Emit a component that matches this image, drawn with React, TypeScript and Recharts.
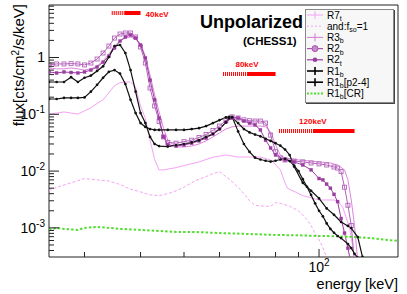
import React from "react";
import { LineChart, Line, XAxis, YAxis, ReferenceArea, ReferenceLine, ReferenceDot } from "recharts";

const W = 407;
const H = 294;
const X_MIN = 25;
const X_MAX = 150;
const Y_MIN = 3.07e-4;
const Y_MAX = 8.4;

const X_TICKS = [30, 40, 50, 60, 70, 80, 90, 100];
const X_MAJOR = [100];
const X_MAJOR_EXP = ["2"];
const Y_TICKS = [
  0.0004, 0.0005, 0.0006, 0.0007, 0.0008, 0.0009,
  0.001, 0.002, 0.003, 0.004, 0.005, 0.006, 0.007, 0.008, 0.009,
  0.01, 0.02, 0.03, 0.04, 0.05, 0.06, 0.07, 0.08, 0.09,
  0.1, 0.2, 0.3, 0.4, 0.5, 0.6, 0.7, 0.8, 0.9,
  1, 2, 3, 4, 5, 6, 7, 8,
];
const Y_MAJOR = [0.001, 0.01, 0.1, 1];
const Y_MAJOR_EXP = ["-3", "-2", "-1", ""];

// R7_t
const R7T_E = [25, 26, 27, 28, 29, 30, 31, 32, 33, 34, 35, 36, 37, 38, 39, 40, 41, 42, 43, 44, 45, 48, 50, 54, 58, 62, 66, 70, 74, 78, 80, 82, 84, 85, 92, 100, 108, 110, 113, 117, 120, 121];
const R7T_F = [0.101, 0.105, 0.11, 0.105, 0.101, 0.115, 0.13, 0.155, 0.18, 0.24, 0.32, 0.36, 0.37, 0.37, 0.3, 0.14, 0.085, 0.035, 0.016, 0.0105, 0.0105, 0.0115, 0.0125, 0.0145, 0.0175, 0.0192, 0.0177, 0.0177, 0.0177, 0.0157, 0.013, 0.0105, 0.0062, 0.005, 0.0037, 0.0031, 0.0031, 0.003, 0.0023, 0.001, 0.0003, 0.0002];

// and:f_so=1
const FSO_E = [25, 26, 28, 30, 31, 32, 34, 36, 38, 40, 42, 44, 46, 48, 50, 53, 56, 58, 60, 62, 64, 66, 68, 70, 72, 76, 78, 80, 82, 86, 90, 94, 96, 98, 100, 102, 104, 105];
const FSO_F = [0.0045, 0.0052, 0.0062, 0.0074, 0.0072, 0.007, 0.0067, 0.0058, 0.0048, 0.0043, 0.0038, 0.0037, 0.004, 0.0045, 0.0052, 0.0068, 0.008, 0.009, 0.0098, 0.008, 0.0065, 0.0052, 0.004, 0.003, 0.0025, 0.0024, 0.0024, 0.0028, 0.0027, 0.0024, 0.002, 0.0014, 0.0011, 0.0008, 0.00062, 0.00045, 0.0003, 0.00022];

// R3_b
const R3B_E = [25, 26, 27, 28, 29, 30, 31, 32, 33, 34, 35, 36, 37, 38, 39, 40, 41, 42, 43, 44, 45, 46, 48, 50, 52, 54, 56, 58, 60, 62, 64, 66, 70, 74, 76, 78, 80, 82, 84, 90, 96, 100, 106, 110, 114, 116, 118, 120, 122];
const R3B_F = [0.653, 0.63, 0.63, 0.653, 0.63, 0.602, 0.63, 0.71, 0.87, 1.15, 1.59, 1.95, 2.2, 2.3, 2.12, 1.73, 1.06, 0.49, 0.22, 0.11, 0.057, 0.035, 0.0266, 0.0266, 0.0276, 0.03, 0.034, 0.04, 0.047, 0.055, 0.06, 0.062, 0.062, 0.062, 0.06, 0.049, 0.029, 0.019, 0.017, 0.0157, 0.015, 0.0145, 0.0139, 0.0128, 0.0105, 0.007, 0.0031, 0.0011, 0.00025];

// R2_b
const R2B_E = [25, 26, 27, 28, 29, 30, 31, 32, 33, 34, 35, 36, 37, 38, 39, 40, 41, 42, 43, 44, 45, 46, 48, 50, 52, 54, 56, 58, 60, 62, 64, 66, 68, 70, 72, 74, 76, 78, 80, 82, 84, 88, 92, 96, 100, 104, 108, 110, 112, 114, 116, 118, 120];
const R2B_F = [0.74, 0.77, 0.77, 0.78, 0.77, 0.74, 0.8, 0.94, 1.2, 1.59, 2.2, 2.59, 2.7, 2.7, 2.3, 1.53, 0.8, 0.29, 0.14, 0.075, 0.04, 0.032, 0.031, 0.033, 0.035, 0.039, 0.044, 0.052, 0.062, 0.078, 0.09, 0.086, 0.08, 0.077, 0.076, 0.076, 0.07, 0.043, 0.022, 0.017, 0.0157, 0.015, 0.0145, 0.0139, 0.0134, 0.0128, 0.0118, 0.0113, 0.0098, 0.0052, 0.0025, 0.0011, 0.00025];

// R2_t
const R2T_E = [25, 26, 27, 28, 29, 30, 31, 32, 33, 34, 35, 36, 37, 38, 39, 40, 41, 42, 43, 44, 45, 46, 48, 50, 52, 54, 56, 58, 60, 62, 64, 66, 68, 70, 72, 74, 76, 78, 80, 84, 88, 92, 96, 100, 102, 104, 106, 108, 110, 112, 114, 116, 118];
const R2T_F = [0.556, 0.534, 0.556, 0.545, 0.534, 0.556, 0.6, 0.68, 0.83, 1.06, 1.47, 1.95, 2.3, 2.49, 2.2, 1.66, 0.98, 0.4, 0.18, 0.086, 0.04, 0.029, 0.0276, 0.0288, 0.031, 0.034, 0.038, 0.045, 0.055, 0.073, 0.086, 0.086, 0.076, 0.07, 0.065, 0.053, 0.035, 0.0255, 0.0192, 0.0157, 0.0145, 0.0128, 0.0105, 0.0074, 0.007, 0.0059, 0.005, 0.0039, 0.0029, 0.00146, 0.00081, 0.00044, 0.00022];

// R1_b
const R1B_E = [25, 26, 27, 28, 29, 30, 31, 32, 33, 34, 35, 36, 37, 38, 39, 40, 41, 42, 43, 44, 46, 48, 50, 52, 54, 56, 58, 60, 62, 63, 64, 66, 68, 70, 72, 74, 76, 78, 80, 82, 84, 86, 88, 90, 92, 94, 96, 98, 100, 102, 104, 106, 108, 110, 112, 116, 118, 120, 122];
const R1B_F = [0.37, 0.37, 0.37, 0.45, 0.37, 0.44, 0.48, 0.58, 0.7, 1.02, 1.59, 1.66, 1.2, 0.6, 0.25, 0.105, 0.07, 0.04, 0.03, 0.0276, 0.027, 0.0285, 0.03, 0.032, 0.035, 0.04, 0.045, 0.055, 0.072, 0.085, 0.09, 0.05, 0.03, 0.0217, 0.0172, 0.016, 0.0152, 0.0147, 0.0152, 0.016, 0.0165, 0.015, 0.0125, 0.01, 0.0072, 0.0053, 0.0038, 0.0027, 0.002, 0.0016, 0.0012, 0.00096, 0.00082, 0.00072, 0.00066, 0.00052, 0.00044, 0.00035, 0.0003];

// R1_b[p2-4]
const R1BP_E = [25, 26, 27, 28, 29, 30, 31, 32, 33, 34, 35, 36, 37, 38, 39, 40, 41, 42, 43, 44, 46, 48, 50, 52, 54, 56, 58, 60, 62, 63, 64, 66, 68, 70, 72, 74, 76, 78, 80, 82, 84, 86, 88, 92, 96, 100, 104, 108, 112, 116, 118, 122, 125, 126];
const R1BP_F = [0.186, 0.186, 0.194, 0.194, 0.194, 0.198, 0.25, 0.33, 0.44, 0.56, 0.6, 0.52, 0.34, 0.18, 0.105, 0.07, 0.06, 0.055, 0.053, 0.053, 0.053, 0.053, 0.053, 0.055, 0.057, 0.062, 0.07, 0.079, 0.088, 0.09, 0.088, 0.07, 0.055, 0.048, 0.044, 0.041, 0.037, 0.034, 0.031, 0.028, 0.024, 0.0192, 0.012, 0.0062, 0.0045, 0.0033, 0.0022, 0.0017, 0.00127, 0.00108, 0.00099, 0.00069, 0.00031, 0.00022];

// R1_b[CR]
const CR_E = [25, 26, 27, 28, 29, 30, 32, 34, 36, 38, 40, 44, 48, 52, 56, 60, 70, 80, 90, 100, 110, 120, 130, 140, 150];
const CR_F = [0.00092, 0.001, 0.00096, 0.00094, 0.00092, 0.001, 0.00104, 0.001, 0.00096, 0.00094, 0.00092, 0.00088, 0.00085, 0.00085, 0.00083, 0.00081, 0.00078, 0.00075, 0.00074, 0.00072, 0.00071, 0.00069, 0.00066, 0.00062, 0.00059];

// energy range markers
const MARK_LABEL = ["40keV", "80keV", "120keV"];
const MARK_END = [40, 80, 120];
const MARK_SOLID = [36.9, 69.1, 96.9];
const MARK_HATCH = [34.5, 61.1, 81.4];
const MARK_FLUX = [6.07, 0.512, 0.0508];

const zip = (e: number[], f: number[]) => e.map((x, i) => ({ e: x, f: f[i] }));

const FONT = "'Liberation Sans', Arial, Helvetica, sans-serif";

function makeDot(kind: string, color: string) {
  return (p: any) => {
    const { cx, cy, index } = p;
    if (cx == null || cy == null) return <g key={`d${index}`} />;
    if (kind === "openSquare")
      return <rect key={`d${index}`} x={cx - 2} y={cy - 2} width={4} height={4} fill="none" stroke={color} strokeWidth={0.9} />;
    if (kind === "square")
      return <rect key={`d${index}`} x={cx - 1.7} y={cy - 1.7} width={3.4} height={3.4} fill={color} />;
    if (kind === "circle") return <circle key={`d${index}`} cx={cx} cy={cy} r={1.35} fill={color} />;
    return <g key={`d${index}`} />;
  };
}

const SERIES = [
  { id: "R7t", data: zip(R7T_E, R7T_F), color: "#f5a3f5", width: 1, dash: undefined, dot: "" },
  { id: "fso", data: zip(FSO_E, FSO_F), color: "#f5a3f5", width: 1, dash: "3 2", dot: "" },
  { id: "R3b", data: zip(R3B_E, R3B_F), color: "#de86de", width: 1, dash: undefined, dot: "" },
  { id: "R2b", data: zip(R2B_E, R2B_F), color: "#b463bb", width: 1, dash: undefined, dot: "openSquare" },
  { id: "R2t", data: zip(R2T_E, R2T_F), color: "#9b3ca0", width: 1, dash: undefined, dot: "square" },
  { id: "R1b", data: zip(R1B_E, R1B_F), color: "#111", width: 1.2, dash: undefined, dot: "circle" },
  { id: "R1bp", data: zip(R1BP_E, R1BP_F), color: "#111", width: 1.2, dash: undefined, dot: "circle" },
  { id: "CR", data: zip(CR_E, CR_F), color: "#55dd33", width: 2, dash: "2.5 2", dot: "" },
];

const LEGEND = [
  { main: "R7", sub: "t", rest: "", color: "#f5a3f5", dash: undefined, marker: "plus", width: 1 },
  { main: "and:f", sub: "so", rest: "=1", color: "#f5a3f5", dash: "2 2", marker: "", width: 1 },
  { main: "R3", sub: "b", rest: "", color: "#d77cd7", dash: undefined, marker: "plus", width: 1 },
  { main: "R2", sub: "b", rest: "", color: "#a855ad", dash: undefined, marker: "bigdot", width: 1.2 },
  { main: "R2", sub: "t", rest: "", color: "#9b3ca0", dash: undefined, marker: "dot", width: 1.2 },
  { main: "R1", sub: "b", rest: "", color: "#000", dash: undefined, marker: "plus", width: 1.6 },
  { main: "R1", sub: "b", rest: "[p2-4]", color: "#000", dash: undefined, marker: "plus", width: 1.6 },
  { main: "R1", sub: "b", rest: "[CR]", color: "#55dd33", dash: "2 1.5", marker: "", width: 2 },
];

const XTick = (props: any) => {
  const { x, y, payload } = props;
  const i = X_MAJOR.indexOf(payload.value);
  const major = i >= 0;
  return (
    <g>
      <line x1={x} x2={x} y1={y} y2={y - (major ? 8 : 5)} stroke="#222" strokeWidth={1} />
      {major && (
        <text x={x} y={y + 15} textAnchor="middle" fontSize={14} fontFamily={FONT} fill="#000">
          10<tspan dy={-6} fontSize={10}>{X_MAJOR_EXP[i]}</tspan>
        </text>
      )}
    </g>
  );
};

const YTick = (props: any) => {
  const { x, y, payload } = props;
  const i = Y_MAJOR.indexOf(payload.value);
  const major = i >= 0;
  return (
    <g>
      <line x1={x} x2={x + (major ? 10 : 5)} y1={y} y2={y} stroke="#222" strokeWidth={1} />
      {major && (
        <text x={x - 4} y={y + 5} textAnchor="end" fontSize={14} fontFamily={FONT} fill="#000">
          {Y_MAJOR_EXP[i] === "" ? "1" : (
            <>
              10<tspan dy={-6} fontSize={10}>{Y_MAJOR_EXP[i]}</tspan>
            </>
          )}
        </text>
      )}
    </g>
  );
};

function Legend() {
  const rowH = 11.2;
  return (
    <div style={{ position: "absolute", left: 305, top: 9, width: 89, height: 94, background: "#f7f7f7", border: "1px solid #888", boxShadow: "1px 1px 0 #444", boxSizing: "border-box" }}>
      <svg width={89} height={94} style={{ position: "absolute", left: -1, top: -1 }}>
        {LEGEND.map((it, i) => {
          const cy = 6 + i * rowH;
          return (
            <g key={i}>
              <line x1={2} x2={18} y1={cy} y2={cy} stroke={it.color} strokeWidth={it.width} strokeDasharray={it.dash} />
              {it.marker === "plus" && <line x1={10} x2={10} y1={cy - 4} y2={cy + 4} stroke={it.color} strokeWidth={it.width} />}
              {it.marker === "bigdot" && <circle cx={10} cy={cy} r={3} fill="#c489c8" stroke={it.color} strokeWidth={1} />}
              {it.marker === "dot" && <circle cx={10} cy={cy} r={2.3} fill={it.color} />}
              <text x={22} y={cy + 3.5} fontSize={10} fontFamily={FONT} fill="#000">
                {it.main}
                <tspan dy={2.5} fontSize={7}>{it.sub}</tspan>
                {it.rest && <tspan dy={-2.5}>{it.rest}</tspan>}
              </text>
            </g>
          );
        })}
      </svg>
    </div>
  );
}

const markLabel = (i: number) => (p: any) => {
  const vb = p.viewBox || {};
  const first = i === 0;
  return (
    <text
      x={(vb.x ?? 0) + (first ? 5 : 0)}
      y={(vb.y ?? 0) + (first ? 3.5 : -7)}
      textAnchor={first ? "start" : "middle"}
      fontSize={8}
      fontWeight="bold"
      fontFamily={FONT}
      fill="#ff0000"
    >
      {MARK_LABEL[i]}
    </text>
  );
};

export default function App() {
  return (
    <div style={{ position: "absolute", left: 0, top: 0, width: W, height: H, background: "#fff", fontFamily: FONT }}>
      <LineChart width={W} height={H} margin={{ top: 5, right: 9, bottom: 0, left: 0 }}>
        <XAxis
          dataKey="e"
          type="number"
          scale="log"
          domain={[X_MIN, X_MAX]}
          allowDataOverflow
          ticks={X_TICKS}
          interval={0}
          height={37}
          tickSize={0}
          tickMargin={0}
          axisLine={false}
          tickLine={false}
          tick={XTick}
        />
        <YAxis
          dataKey="f"
          type="number"
          scale="log"
          domain={[Y_MIN, Y_MAX]}
          allowDataOverflow
          ticks={Y_TICKS}
          interval={0}
          width={49}
          tickSize={0}
          tickMargin={0}
          axisLine={false}
          tickLine={false}
          tick={YTick}
        />
        {SERIES.map((s) => (
          <Line
            key={s.id}
            data={s.data}
            dataKey="f"
            type="linear"
            stroke={s.color}
            strokeWidth={s.width}
            strokeDasharray={s.dash}
            dot={s.dot ? makeDot(s.dot, s.color) : false}
            activeDot={false}
            isAnimationActive={false}
          />
        ))}
        {MARK_END.map((e, i) => (
          <ReferenceLine
            key={`h${i}`}
            segment={[{ x: MARK_HATCH[i], y: MARK_FLUX[i] }, { x: MARK_SOLID[i], y: MARK_FLUX[i] }]}
            stroke="#ff0000"
            strokeWidth={4}
            strokeDasharray="1 1"
            ifOverflow="visible"
          />
        ))}
        {MARK_END.map((e, i) => (
          <ReferenceLine
            key={`s${i}`}
            segment={[{ x: MARK_SOLID[i], y: MARK_FLUX[i] }, { x: e, y: MARK_FLUX[i] }]}
            stroke="#ff0000"
            strokeWidth={4}
            ifOverflow="visible"
          />
        ))}
        {MARK_END.map((e, i) => (
          <ReferenceDot
            key={`l${i}`}
            x={i === 0 ? e : MARK_SOLID[i]}
            y={MARK_FLUX[i]}
            r={0}
            fill="none"
            stroke="none"
            ifOverflow="visible"
            label={{ content: markLabel(i) }}
          />
        ))}
        <ReferenceArea x1={X_MIN} x2={X_MAX} y1={Y_MIN} y2={Y_MAX} fill="none" stroke="#222" strokeWidth={1} ifOverflow="visible" />
      </LineChart>
      <svg width={W} height={H} style={{ position: "absolute", left: 0, top: 0, pointerEvents: "none" }}>
        <text x={200} y={28} fontSize={18} fontWeight="bold" fontFamily={FONT} fill="#000">Unpolarized</text>
        <text x={243} y={45} fontSize={11.5} fontWeight="bold" fontFamily={FONT} fill="#000">(CHESS1)</text>
        <text transform="translate(24,4) rotate(-90)" textAnchor="end" fontSize={15} fontFamily={FONT} fill="#000">
          flux[cts/cm<tspan dy={-5} fontSize={10}>2</tspan>
          <tspan dy={5}>/s/keV]</tspan>
        </text>
        <text x={398} y={289} textAnchor="end" fontSize={14.5} fontFamily={FONT} fill="#000">energy [keV]</text>
      </svg>
      <Legend />
    </div>
  );
}
